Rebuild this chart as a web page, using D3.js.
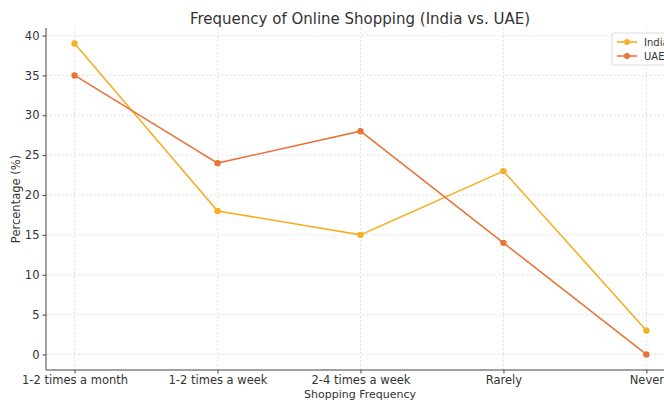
<!DOCTYPE html>
<html>
<head>
<meta charset="utf-8">
<script src="https://cdn.jsdelivr.net/npm/d3@7"></script>
<style>
  body { margin: 0; background: white; }
  text { font-family: "DejaVu Sans", sans-serif; }
</style>
</head>
<body>
<div id="chart"></div>
<script>
const categories = ["1-2 times a month", "1-2 times a week", "2-4 times a week", "Rarely", "Never"]
const india = [39, 18, 15, 23, 3]
const uae = [35, 24, 28, 14, 0]
const yTicks = [0, 5, 10, 15, 20, 25, 30, 35, 40]

const series = [
    { name: "India", values: india, color: "#f4b022" },
    { name: "UAE", values: uae, color: "#e8743b" }
]

const width = 664, height = 400
const plotLeft = 46, plotRight = 675, plotTop = 28, plotBottom = 370

const svg = d3.select("#chart").append("svg")
    .attr("width", width)
    .attr("height", height)

// index scale with matplotlib-like margins
const x = d3.scaleLinear()
    .domain([-0.2, categories.length - 1 + 0.2])
    .range([plotLeft, plotRight])

const y = d3.scaleLinear()
    .domain([-1.95, 40.95])
    .range([plotBottom, plotTop])

// grid
svg.append("g")
    .selectAll("line")
    .data(categories)
    .join("line")
    .attr("x1", (d, i) => x(i)).attr("x2", (d, i) => x(i))
    .attr("y1", plotTop).attr("y2", plotBottom)
    .style("stroke", "#dcdcdc")
    .style("stroke-width", 0.8)
    .style("stroke-dasharray", "2,2")

svg.append("g")
    .selectAll("line")
    .data(yTicks)
    .join("line")
    .attr("x1", plotLeft).attr("x2", plotRight)
    .attr("y1", d => y(d)).attr("y2", d => y(d))
    .style("stroke", "#dcdcdc")
    .style("stroke-width", 0.8)
    .style("stroke-dasharray", "2,2")

// axes
const xAxis = svg.append("g")
    .attr("transform", "translate(0," + plotBottom + ")")
    .call(d3.axisBottom(x)
        .tickValues(d3.range(categories.length))
        .tickFormat(i => categories[i])
        .tickSize(3.5)
        .tickPadding(2.5))

const yAxis = svg.append("g")
    .attr("transform", "translate(" + plotLeft + ",0)")
    .call(d3.axisLeft(y)
        .tickValues(yTicks)
        .tickSize(3.5)
        .tickPadding(3))

xAxis.select(".domain").attr("d", "M" + plotLeft + ",0H" + plotRight)
yAxis.select(".domain").attr("d", "M0," + plotTop + "V" + plotBottom)

svg.selectAll(".domain").style("stroke", "#444").style("stroke-width", 1)
svg.selectAll(".tick line").style("stroke", "#444")
svg.selectAll(".tick text")
    .style("font-size", "11.5px")
    .style("fill", "#333")

// lines and markers
const line = d3.line()
    .x((d, i) => x(i))
    .y(d => y(d))

series.forEach(s => {
    svg.append("path")
        .datum(s.values)
        .attr("d", line)
        .style("fill", "none")
        .style("stroke", s.color)
        .style("stroke-width", 1.6)

    svg.append("g")
        .selectAll("circle")
        .data(s.values)
        .join("circle")
        .attr("cx", (d, i) => x(i))
        .attr("cy", d => y(d))
        .attr("r", 3.2)
        .style("fill", s.color)
})

// title and labels
svg.append("text")
    .attr("x", 360)
    .attr("y", 24)
    .attr("text-anchor", "middle")
    .style("font-size", "15px")
    .style("fill", "#333")
    .text("Frequency of Online Shopping (India vs. UAE)")

svg.append("text")
    .attr("x", 360)
    .attr("y", 397.5)
    .attr("text-anchor", "middle")
    .style("font-size", "11px")
    .style("fill", "#333")
    .text("Shopping Frequency")

svg.append("text")
    .attr("transform", "translate(20," + ((plotTop + plotBottom) / 2) + ") rotate(-90)")
    .attr("text-anchor", "middle")
    .style("font-size", "11.5px")
    .style("fill", "#333")
    .text("Percentage (%)")

// legend
const legend = svg.append("g")
    .attr("transform", "translate(612,33)")

legend.append("rect")
    .attr("width", 60)
    .attr("height", 32)
    .attr("rx", 2)
    .style("fill", "white")
    .style("stroke", "#ddd")

series.forEach((s, i) => {
    const g = legend.append("g")
        .attr("transform", "translate(5," + (9 + i * 14) + ")")
    g.append("line")
        .attr("x1", 0).attr("x2", 20)
        .style("stroke", s.color)
        .style("stroke-width", 1.6)
    g.append("circle")
        .attr("cx", 10)
        .attr("r", 3)
        .style("fill", s.color)
    g.append("text")
        .attr("x", 27)
        .attr("dy", "0.35em")
        .style("font-size", "10px")
        .style("fill", "#333")
        .text(s.name)
})
</script>
</body>
</html>
